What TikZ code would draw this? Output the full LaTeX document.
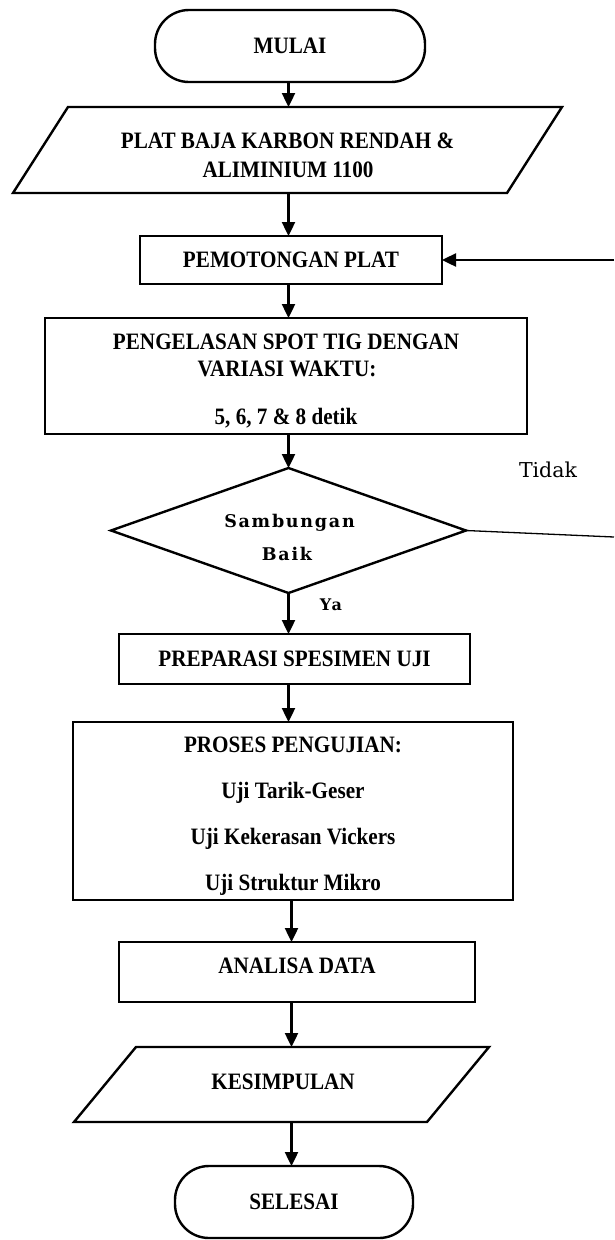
\documentclass[tikz,border=0pt]{standalone}
\usepackage{fontspec}
\setmainfont{Liberation Serif}[FakeStretch=0.9]
\newfontfamily\decfont[LetterSpace=10]{DejaVu Serif}
\newfontfamily\lblfont{DejaVu Serif}
\usetikzlibrary{arrows.meta,shapes.geometric}
\begin{document}
\begin{tikzpicture}[x=1pt,y=-1pt,
  every node/.style={inner sep=0pt,outer sep=0pt},
  txt/.style={font=\bfseries\fontsize{23.5}{28}\selectfont},
  btxt/.style={txt,anchor=base},
  procbox/.style={draw,line width=2.4pt,rectangle,txt},
  termbox/.style={draw,line width=2.4pt,rectangle,rounded corners=34pt,txt},
  ghost/.style={rectangle},
  outline/.style={line width=2.4pt,line join=miter},
  arr/.style={line width=2.4pt,-{Triangle[length=14pt,width=13pt]}},
  thinline/.style={line width=1.3pt},
  dectxt/.style={anchor=base,font=\decfont\bfseries\fontsize{17.5}{20}\selectfont},
  lbltxt/.style={anchor=base,font=\lblfont\fontsize{20.5}{24}\selectfont}]
\useasboundingbox (0,0) rectangle (614,1240);
\coordinate (ax) at (288.5,0);
\coordinate (axb) at (291.5,0);

% start
\node[termbox,minimum width=270,minimum height=72] (start) at (290,46) {MULAI};

% input parallelogram
\node[ghost,minimum width=549,minimum height=86] (input) at (287.5,150) {};
\draw[outline] ([xshift=55pt]input.north west) -- (input.north east)
  -- ([xshift=-55pt]input.south east) -- (input.south west) -- cycle;
\node[btxt] (inputA) at (287.5,148) {PLAT BAJA KARBON RENDAH \&};
\node[btxt] (inputB) at (288,177) {ALIMINIUM 1100};

% cutting
\node[procbox,minimum width=302,minimum height=48] (cut) at (291,260) {PEMOTONGAN PLAT};

% welding
\node[procbox,minimum width=482,minimum height=116] (weld) at (286,376) {};
\node[btxt] (weldA) at (286,349) {PENGELASAN SPOT TIG DENGAN};
\node[btxt] (weldB) at (287,376) {VARIASI WAKTU:};
\node[btxt] (weldC) at (286,424) {5, 6, 7 \& 8 detik};

% decision
\node[draw,line width=2.4pt,diamond,minimum width=355,minimum height=125] (dec) at (288.5,530.5) {};
\node[dectxt] (decA) at (289.5,527) {Sambungan};
\node[dectxt] (decB) at (287,560) {Baik};
\node[lbltxt] (tidak) at (548,477) {Tidak};
\node[anchor=base,font=\decfont\bfseries\fontsize{16}{20}\selectfont] (ya) at (331,610) {Ya};

% preparation
\node[procbox,minimum width=351,minimum height=50] (prep) at (294.5,659) {PREPARASI SPESIMEN UJI};

% testing
\node[procbox,minimum width=440,minimum height=178] (test) at (293,811) {};
\node[btxt] (testA) at (293,752) {PROSES PENGUJIAN:};
\node[btxt] (testB) at (293,798) {Uji Tarik-Geser};
\node[btxt] (testC) at (293,844) {Uji Kekerasan Vickers};
\node[btxt] (testD) at (293,890) {Uji Struktur Mikro};

% analysis
\node[procbox,minimum width=356,minimum height=60] (anal) at (297,972) {};
\node[btxt] (analT) at (297,973) {ANALISA DATA};

% conclusion parallelogram
\node[ghost,minimum width=415,minimum height=75] (concl) at (281.5,1084.5) {};
\draw[outline] ([xshift=62pt]concl.north west) -- (concl.north east)
  -- ([xshift=-62pt]concl.south east) -- (concl.south west) -- cycle;
\node[btxt] (conclT) at (283,1089) {KESIMPULAN};

% end
\node[termbox,minimum width=238,minimum height=72] (stop) at (294,1202) {SELESAI};

% connectors
\draw[arr] (start.south -| ax) -- (input.north -| ax);
\draw[arr] (input.south -| ax) -- (cut.north -| ax);
\draw[arr] (cut.south -| ax) -- (weld.north -| ax);
\draw[arr] (weld.south -| ax) -- (dec.north);
\draw[arr] (dec.south) -- (prep.north -| dec.south);
\draw[arr] (prep.south -| ax) -- (test.north -| ax);
\draw[arr] (test.south -| axb) -- (anal.north -| axb);
\draw[arr] (anal.south -| axb) -- (concl.north -| axb);
\draw[arr] (concl.south -| axb) -- (stop.north -| axb);

\coordinate (tidakEnd) at (614,537);
\coordinate (loopIn) at (614,260);
\draw[thinline] (dec.east) -- (tidakEnd);
\draw[arr] (loopIn) -- (cut.east);
\end{tikzpicture}
\end{document}
